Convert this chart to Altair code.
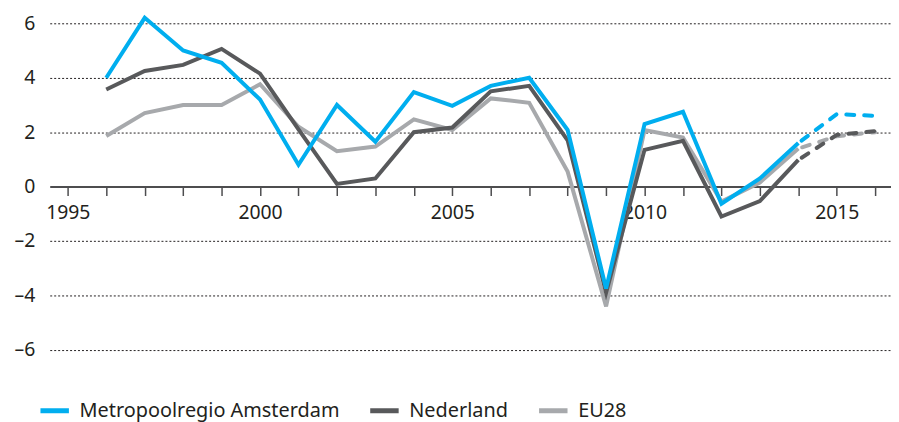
import altair as alt
import pandas as pd

# ---- data ----
series_names = ["Metropoolregio Amsterdam", "Nederland", "EU28"]
series_colors = ["#00AEEF", "#58595B", "#A7A9AC"]

years_hist = list(range(1996, 2015))
amsterdam = [4.0, 6.2, 5.0, 4.55, 3.2, 0.8, 3.0, 1.65, 3.47, 2.97, 3.7, 4.0, 2.08, -3.75, 2.3, 2.75, -0.63, 0.3, 1.6]
nederland = [3.57, 4.25, 4.47, 5.06, 4.15, 2.1, 0.1, 0.3, 2.0, 2.17, 3.5, 3.7, 1.7, -3.9, 1.35, 1.68, -1.1, -0.53, 0.98]
eu28 = [1.86, 2.7, 3.0, 3.0, 3.76, 2.2, 1.3, 1.47, 2.47, 2.08, 3.24, 3.08, 0.55, -4.4, 2.08, 1.8, -0.55, 0.15, 1.4]

years_fc = [2014, 2015, 2016]
amsterdam_fc = [1.6, 2.66, 2.6]
nederland_fc = [0.98, 1.9, 2.04]
eu28_fc = [1.4, 1.85, 2.0]

y_ticks = [-6, -4, -2, 0, 2, 4, 6]
x_ticks = list(range(1995, 2017))

rows = []
for name, hist, fc in [
    ("Metropoolregio Amsterdam", amsterdam, amsterdam_fc),
    ("Nederland", nederland, nederland_fc),
    ("EU28", eu28, eu28_fc),
]:
    for yr, v in zip(years_hist, hist):
        rows.append({"series": name, "year": yr, "value": v, "part": "hist"})
    for yr, v in zip(years_fc, fc):
        rows.append({"series": name, "year": yr, "value": v, "part": "fc"})
df = pd.DataFrame(rows)

# ---- layout ----
PX_PER_UNIT = 27.4
Y_TOP, Y_BOTTOM = 6.365, -7.0
H = (Y_TOP - Y_BOTTOM) * PX_PER_UNIT
ZERO_OFFSET = -(H - Y_TOP * PX_PER_UNIT)
W = 847

FONT = "Noto Sans"
FS_AXIS = 19.5
FS_LEG = 20

x_enc = alt.X(
    "year:Q",
    scale=alt.Scale(domain=[1994.53, 2016.41], nice=False, zero=False),
    axis=alt.Axis(
        values=x_ticks,
        labelExpr="datum.value % 5 == 0 ? datum.value : ''",
        format="d",
        title=None,
        grid=False,
        offset=ZERO_OFFSET,
        domainColor="#4D4D4F",
        domainWidth=2,
        tickColor="#4D4D4F",
        tickWidth=1.5,
        tickSize=9,
        labelPadding=8,
        labelFont=FONT,
        labelFontSize=FS_AXIS,
        labelColor="#231F20",
        labelFlush=False,
        labelOverlap=False,
    ),
)

y_enc = alt.Y(
    "value:Q",
    scale=alt.Scale(domain=[Y_BOTTOM, Y_TOP], nice=False, zero=False),
    axis=alt.Axis(
        values=y_ticks,
        labelExpr="datum.value < 0 ? '\u2013' + abs(datum.value) : datum.value",
        title=None,
        domain=False,
        ticks=False,
        grid=True,
        gridDash=[2, 2],
        gridWidth=1,
        gridColor=alt.condition("datum.value == 0", alt.value("transparent"), alt.value("#231F20")),
        labelPadding=15,
        labelFont=FONT,
        labelFontSize=FS_AXIS,
        labelColor="#231F20",
        minExtent=42,
        maxExtent=42,
    ),
)

color_enc = alt.Color(
    "series:N",
    scale=alt.Scale(domain=series_names, range=series_colors),
    legend=alt.Legend(
        title=None,
        orient="none",
        direction="horizontal",
        legendX=-12,
        legendY=383,
        symbolType="stroke",
        symbolSize=820,
        symbolStrokeWidth=5,
        labelFont=FONT,
        labelFontSize=FS_LEG,
        labelColor="#231F20",
        labelLimit=500,
        labelOffset=8,
        columnPadding=20,
        symbolDash=[1, 0],
    ),
)

base = alt.Chart(df).encode(x=x_enc, y=y_enc, color=color_enc)

layers = []
for name in ["EU28", "Nederland", "Metropoolregio Amsterdam"]:
    solid = base.transform_filter(
        f"datum.series == '{name}' && datum.part == 'hist'"
    ).mark_line(strokeWidth=4, strokeCap="butt")
    dashed = base.transform_filter(
        f"datum.series == '{name}' && datum.part == 'fc'"
    ).mark_line(strokeWidth=4, strokeCap="round", strokeDash=[8, 10], strokeDashOffset=14)
    layers += [solid, dashed]

chart = (
    alt.layer(*layers)
    .properties(width=W, height=H, padding={"left": 0, "top": 0, "right": 0, "bottom": 0})
    .configure_view(stroke=None)
)

chart.save("out.html", embed_options={"renderer": "svg", "actions": False})
